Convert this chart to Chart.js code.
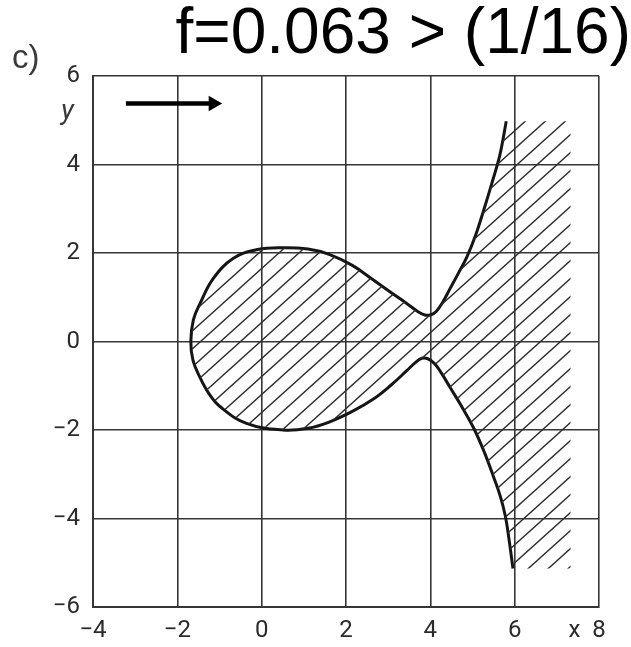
<!DOCTYPE html>
<html>
<head>
<meta charset="utf-8">
<script src="https://cdn.jsdelivr.net/npm/chart.js@4/dist/chart.umd.min.js"></script>
<style>
  body { margin: 0; background: #fff; }
  #wrap { position: relative; width: 631px; height: 647px; }
  .lbl { position: absolute; color: #3a3a3a; white-space: nowrap; }
</style>
</head>
<body>
<div id="wrap">
  <canvas id="chart" width="631" height="647"></canvas>
  <span class="lbl" style="left:12px; top:38px; font:33px 'Liberation Sans', sans-serif;">c)</span>
  <span class="lbl" style="left:61px; top:93px; font:italic 28px Roboto, sans-serif;">y</span>
</div>
<script>
// ── axes ──
const xTicks = [-4, -2, 0, 2, 4, 6, 8];
const yTicks = [-6, -4, -2, 0, 2, 4, 6];

// ── curve pieces (x, y) ──
const upperLoop = [
  [-1.68, 0], [-1.62, 0.49], [-1.46, 0.86], [-1.15, 1.42], [-0.67, 1.88], [-0.1, 2.08],
  [0.51, 2.12], [1.1, 2.09], [1.6, 1.97], [2.15, 1.72], [2.65, 1.39], [3.05, 1.12],
  [3.44, 0.86], [3.7, 0.68], [3.87, 0.6], [4.0, 0.6],
];
const upperBranch = [
  [4.0, 0.6], [4.14, 0.68], [4.3, 0.9], [4.47, 1.2], [4.67, 1.55], [4.87, 1.92],
  [5.08, 2.42], [5.26, 2.95], [5.46, 3.58], [5.64, 4.18], [5.73, 4.6], [5.80, 4.98],
];
const lowerLoop = [
  [-1.68, 0], [-1.63, -0.42], [-1.47, -0.8], [-1.25, -1.18], [-0.99, -1.47], [-0.36, -1.85],
  [0.51, -2.0], [1.1, -1.96], [1.6, -1.82], [2.15, -1.58], [2.65, -1.3], [3.05, -1.0],
  [3.44, -0.66], [3.65, -0.47], [3.8, -0.38], [3.94, -0.39],
];
const lowerBranch = [
  [3.94, -0.39], [4.1, -0.5], [4.26, -0.71], [4.47, -1.04], [4.75, -1.48], [5.03, -1.96],
  [5.28, -2.5], [5.5, -3.06], [5.66, -3.5], [5.78, -3.95], [5.87, -4.5], [5.96, -5.13],
];
// outer edges of the hatching on the right
const hatchTop = [[7.33, 4.98]];
const hatchBottom = [[7.33, -5.13]];
// flow arrow
const arrow = [[-3.22, 5.38], [-1.15, 5.38]];

const pts = a => a.map(p => ({ x: p[0], y: p[1] }));

function hatch(w, h, lw) {
    const c = document.createElement('canvas');
    c.width = w; c.height = h;
    const g = c.getContext('2d');
    g.strokeStyle = '#2e2e2e';
    g.lineWidth = lw;
    g.beginPath();
    for (const n of [0, 1, 2]) {
        g.moveTo(-w, (n + 1) * h);
        g.lineTo(2 * w, (n - 2) * h);
    }
    g.stroke();
    return g.createPattern(c, 'repeat');
}

const edge = { borderColor: 'rgba(0,0,0,0)', borderWidth: 0, pointRadius: 0, tension: 0 };
const curve = [
    ...upperBranch.slice().reverse(),
    ...upperLoop.slice().reverse().slice(1),
    ...lowerLoop.slice(1),
    ...lowerBranch.slice(1),
];
const hatchUpper = [...upperLoop, ...upperBranch.slice(1), ...hatchTop];
const hatchLower = [...lowerLoop, ...lowerBranch.slice(1), ...hatchBottom];

const tickFont = { family: 'Roboto', size: 24 };
const lineCol = '#363636';
const fmt = v => (v < 0 ? '\u2212' + Math.abs(v) : String(v));

new Chart(document.getElementById('chart'), {
    type: 'line',
    data: {
        datasets: [
            { ...edge, data: pts(hatchLower), fill: false },
            { ...edge, data: pts(hatchUpper), fill: '-1', backgroundColor: hatch(20, 18, 1.4) },
            {
                data: pts(curve), borderColor: '#151515', borderWidth: 3,
                tension: 0.4, pointRadius: 0, fill: false,
            },
            {
                data: pts(arrow), borderColor: '#000', borderWidth: 4.5, borderCapStyle: 'butt',
                pointRadius: [0, 9], pointStyle: 'triangle', pointRotation: 90,
                pointBackgroundColor: '#000', pointBorderWidth: 0, fill: false, tension: 0,
            },
        ],
    },
    options: {
        responsive: false,
        animation: false,
        devicePixelRatio: 1,
        layout: { padding: 0 },
        plugins: {
            legend: { display: false },
            tooltip: { enabled: false },
            title: {
                display: true, text: 'f=0.063 > (1/16)', align: 'end', color: '#000',
                font: { family: 'Liberation Sans', size: 64, weight: 'normal', lineHeight: 1 },
                padding: { top: 3, bottom: 9 },
            },
        },
        scales: {
            x: {
                type: 'linear', min: -4, max: 8,
                afterBuildTicks: s => { s.ticks = xTicks.map(v => ({ value: v })); },
                ticks: {
                    autoSkip: false, maxRotation: 0, padding: 10, color: '#2b2b2b', font: tickFont,
                    callback: v => (v === 8 ? 'x  8    ' : fmt(v)),
                },
                grid: { color: lineCol, lineWidth: 1.6, drawTicks: false },
                border: { color: lineCol, width: 2 },
                afterFit: s => { s.height = 40; s.paddingLeft = 0; s.paddingRight = 32; },
            },
            y: {
                type: 'linear', min: -6, max: 6,
                afterBuildTicks: s => { s.ticks = yTicks.map(v => ({ value: v })); },
                ticks: { autoSkip: false, padding: 13, color: '#2b2b2b', font: tickFont, callback: fmt },
                grid: { color: lineCol, lineWidth: 1.6, drawTicks: false },
                border: { color: lineCol, width: 2 },
                afterFit: s => { s.width = 93; s.paddingTop = 0; s.paddingBottom = 0; },
            },
        },
    },
});
</script>
</body>
</html>
